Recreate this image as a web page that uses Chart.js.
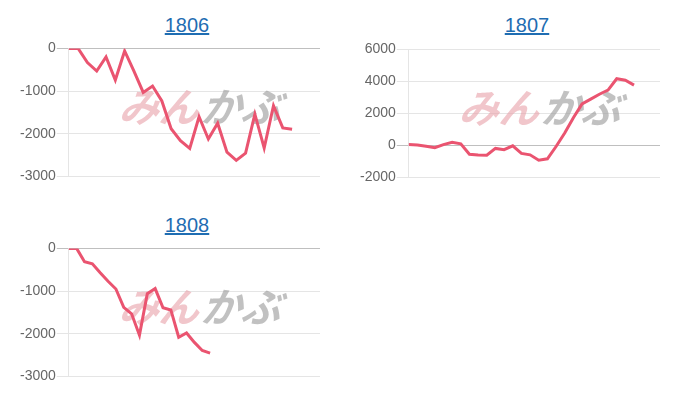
<!DOCTYPE html>
<html>
<head>
<meta charset="utf-8">
<script src="https://cdn.jsdelivr.net/npm/chart.js@4/dist/chart.umd.min.js"></script>
<style>
body { margin: 0; width: 700px; height: 400px; background: #fff; position: relative; overflow: hidden; font-family: Arial, "Liberation Sans", sans-serif; }
.title { position: absolute; width: 100px; text-align: center; font-size: 20px; line-height: 20px; }
.title a { color: #1f6db2; text-decoration: underline; }
.box { position: absolute; width: 301px; height: 147px; }
</style>
</head>
<body>
<div class="title" style="left:137px;top:15px"><a href="#">1806</a></div>
<div class="title" style="left:477px;top:15px"><a href="#">1807</a></div>
<div class="title" style="left:137px;top:215px"><a href="#">1808</a></div>
<div class="box" style="left:19px;top:39px"><canvas id="c1806"></canvas></div>
<div class="box" style="left:359px;top:40px"><canvas id="c1807"></canvas></div>
<div class="box" style="left:19px;top:239px"><canvas id="c1808"></canvas></div>
<script>
const days1806 = ["1","2","3","4","5","6","7","8","9","10","11","12","13","14","15","16","17","18","19","20","21","22","23","24","25","26","27","28"];
const days1807 = ["1","2","3","4","5","6","7","8","9","10","11","12","13","14","15","16","17","18","19","20","21","22","23","24","25","26","27","28","29","30"];
const days1808 = ["1","2","3","4","5","6","7","8","9","10","11","12","13","14","15","16","17","18","19","20","21","22","23","24","25","26","27","28","29","30","31","32","33"];

const values1806 = [0, 0, -330, -530, -200, -740, -60, -530, -1030, -880, -1230, -1880, -2160, -2340, -1600, -2120, -1750, -2430, -2620, -2450, -1540, -2330, -1340, -1860, -1890];
const values1807 = [60, 40, -40, -130, 60, 210, 110, -540, -590, -600, -180, -260, -20, -490, -580, -920, -830, -60, 780, 1740, 2600, 2900, 3200, 3460, 4170, 4080, 3770];
const values1808 = [0, 0, -310, -360, -570, -770, -950, -1380, -1530, -2030, -1060, -940, -1390, -1440, -2080, -1980, -2200, -2390, -2450];

const axis1806 = [-3000, 0, 1000];
const axis1807 = [-2000, 6000, 2000];
const axis1808 = [-3000, 0, 1000];

Chart.defaults.font.family = "Arial, 'Liberation Sans', sans-serif";
Chart.defaults.font.size = 14;
Chart.defaults.color = "#666";

// watermark logo behind the line
const logo = {
	id: "logo",
	beforeDatasetsDraw(chart) {
		const ctx = chart.ctx;
		const a = chart.chartArea;
		const cx = (a.left + a.right) / 2 + 10;
		const cy = (a.top + a.bottom) / 2 - 6;
		ctx.save();
		ctx.font = "bold 40px 'Noto Sans CJK JP'";
		ctx.textBaseline = "middle";
		const w1 = ctx.measureText("みん").width;
		const w2 = ctx.measureText("かぶ").width;
		const gap = 2;
		const x0 = cx - (w1 + w2 + gap) / 2;
		ctx.translate(0, cy);
		ctx.transform(1, 0, -0.35, 1, 0, 0);
		ctx.fillStyle = "rgba(232, 160, 168, 0.6)";
		ctx.fillText("みん", x0, 0);
		ctx.fillStyle = "rgba(160, 160, 160, 0.65)";
		ctx.fillText("かぶ", x0 + w1 + gap, 0);
		ctx.restore();
	},
};

function makeChart(id, labels, values, axis) {
	return new Chart(document.getElementById(id), {
		type: "line",
		data: {
			labels: labels,
			datasets: [
				{
					data: values,
					borderColor: "#ea5470",
					borderWidth: 3,
					pointRadius: 0,
					fill: false,
					tension: 0,
				},
			],
		},
		options: {
			responsive: true,
			maintainAspectRatio: false,
			animation: false,
			events: [],
			plugins: {
				legend: { display: false },
				tooltip: { enabled: false },
			},
			scales: {
				x: {
					ticks: { display: false },
					grid: { display: false },
					border: { display: false },
				},
				y: {
					min: axis[0],
					max: axis[1],
					ticks: {
						stepSize: axis[2],
						padding: 1,
						callback: (v) => String(v),
					},
					grid: {
						tickLength: 12,
						color: (c) => (c.tick && c.tick.value === 0 ? "rgba(0,0,0,0.25)" : "rgba(0,0,0,0.1)"),
					},
					border: { color: "rgba(0,0,0,0.1)" },
				},
			},
		},
		plugins: [logo],
	});
}

makeChart("c1806", days1806, values1806, axis1806);
makeChart("c1807", days1807, values1807, axis1807);
makeChart("c1808", days1808, values1808, axis1808);
</script>
</body>
</html>
